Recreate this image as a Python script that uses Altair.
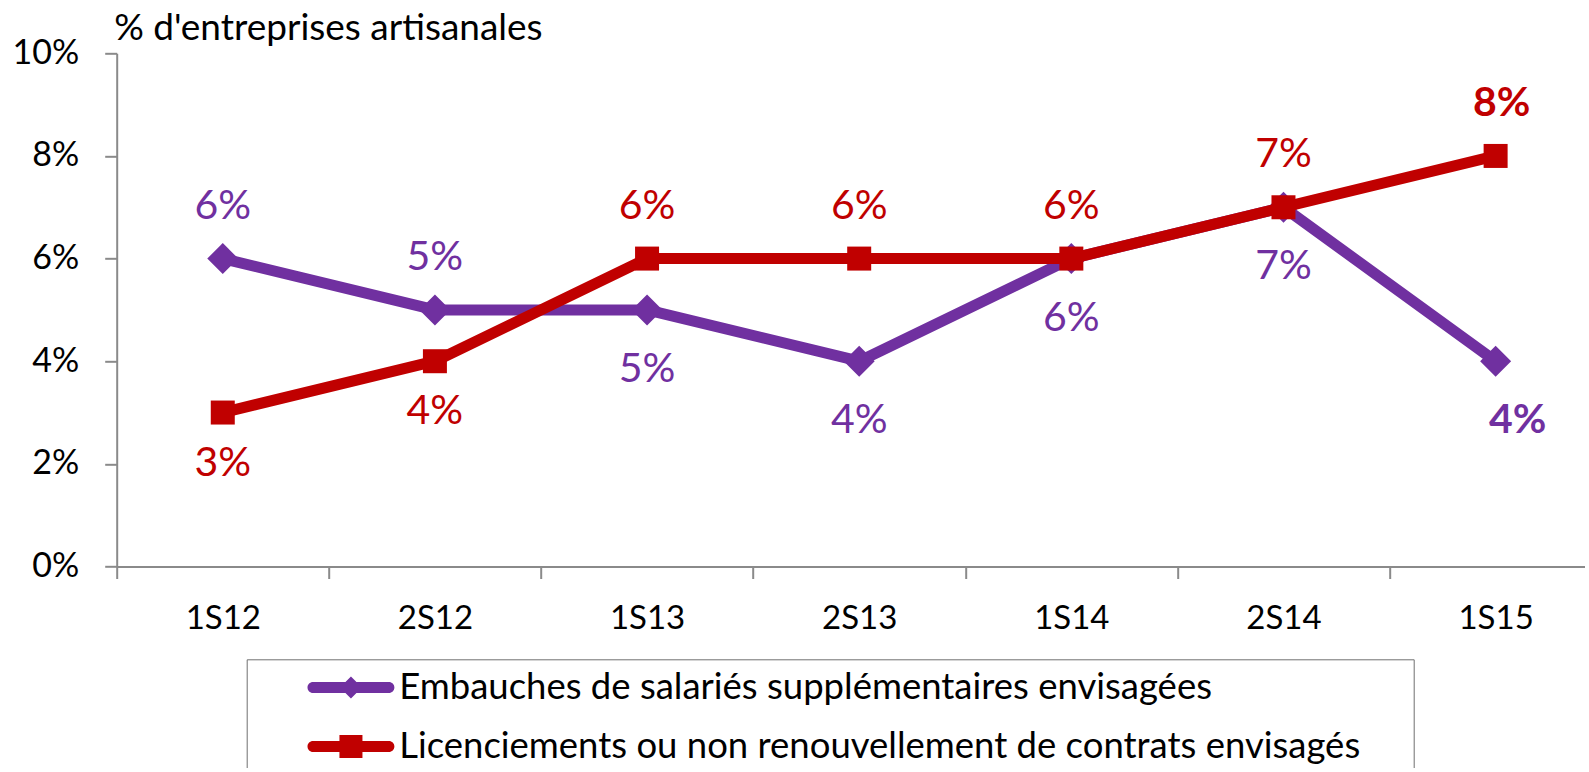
import altair as alt
import pandas as pd

categories = ["1S12", "2S12", "1S13", "2S13", "1S14", "2S14", "1S15"]
series_names = [
    "Embauches de salariés supplémentaires envisagées",
    "Licenciements ou non renouvellement de contrats envisagés",
]
embauches = [6, 5, 5, 4, 6, 7, 4]
licenciements = [3, 4, 6, 6, 6, 7, 8]
embauches_label_side = ["above", "above", "below", "below", "below", "below", "below"]
licenciements_label_side = ["below", "below", "above", "above", "above", "above", "above"]
highlighted = "1S15"
y_ticks = [0, 2, 4, 6, 8, 10]
y_title = "% d'entreprises artisanales"
colors = ["#7030A0", "#C00000"]

# styles per series
marker_shapes = ["diamond", "square"]
marker_sizes = [961, 576]
label_dy = [{"above": -52, "below": 60}, {"above": -52, "below": 51}]
bold_dx = [22, 6]

rows = []
for s, vals, sides in [
    (series_names[0], embauches, embauches_label_side),
    (series_names[1], licenciements, licenciements_label_side),
]:
    for i, (c, v, side) in enumerate(zip(categories, vals, sides)):
        rows.append({"cat": c, "idx": i, "series": s, "value": v, "side": side,
                     "bold": c == highlighted, "label": f"{v}%"})
df = pd.DataFrame(rows)

FONT = "Lato"
AXIS_GRAY = "#8a8a8a"

x_enc = alt.X(
    "cat:N",
    scale=alt.Scale(domain=categories, range=[0, 1485], paddingInner=0, paddingOuter=0),
    axis=alt.Axis(
        title=None, tickBand="extent", labelAngle=0,
        domainColor=AXIS_GRAY, domainWidth=2, tickColor=AXIS_GRAY, tickWidth=2, tickSize=12,
        labelFont=FONT, labelFontSize=33, labelColor="black",
        labelBaseline="alphabetic", labelPadding=50, grid=False,
    ),
)
y_enc = alt.Y(
    "value:Q",
    scale=alt.Scale(domain=[0, 10]),
    axis=alt.Axis(
        values=y_ticks, labelExpr="datum.value + '%'", grid=False,
        domainColor=AXIS_GRAY, domainWidth=2, tickColor=AXIS_GRAY, tickWidth=2, tickSize=12,
        labelFont=FONT, labelFontSize=34, labelColor="black", labelPadding=26,
        title=y_title, titleAngle=0, titleX=-3, titleY=-14, titleAlign="left",
        titleBaseline="alphabetic", titleFont=FONT, titleFontSize=37,
        titleFontWeight="normal", titleColor="black",
    ),
)

base = alt.Chart(df)
layers = []
for k, s in enumerate(series_names):
    sb = base.transform_filter(alt.datum.series == s)
    layers.append(sb.mark_line(strokeWidth=11, strokeJoin="round", color=colors[k]).encode(
        x=x_enc, y=y_enc, order=alt.Order("idx:Q")))
    layers.append(sb.mark_point(filled=True, shape=marker_shapes[k], size=marker_sizes[k],
                                opacity=1, strokeWidth=0, color=colors[k]).encode(x=x_enc, y=y_enc))

for k, s in enumerate(series_names):
    for side in ["above", "below"]:
        dy = label_dy[k][side]
        layers.append(
            base.transform_filter((alt.datum.series == s) & (alt.datum.side == side) & (alt.datum.bold == False))
            .mark_text(font=FONT, fontSize=41, baseline="middle", dy=dy, color=colors[k])
            .encode(x=x_enc, y=y_enc, text="label:N"))
        layers.append(
            base.transform_filter((alt.datum.series == s) & (alt.datum.side == side) & (alt.datum.bold == True))
            .mark_text(font=FONT, fontSize=41, fontWeight="bold", baseline="middle", dy=dy,
                       dx=bold_dx[k], color=colors[k])
            .encode(x=x_enc, y=y_enc, text="label:N"))

# legend symbols: a thick line with the series marker in its middle
line_part = "M-2.53,-0.367 L2.53,-0.367 A0.367,0.367 0 0 1 2.53,0.367 L-2.53,0.367 A0.367,0.367 0 0 1 -2.53,-0.367 Z"
legend_paths = [
    line_part + " M0,-0.733 L0.733,0 L0,0.733 L-0.733,0 Z",
    line_part + " M-0.767,-0.767 L0.767,-0.767 L0.767,0.767 L-0.767,0.767 Z",
]
legend_def = alt.Legend(title="\u00a0", titleOrient="right", titlePadding=43, titleFontSize=10,
                        orient="none", legendX=130, legendY=606,
                        direction="vertical", symbolSize=900, symbolStrokeWidth=0,
                        symbolOffset=76, labelOffset=30, labelFont=FONT,
                        labelFontSize=36.5, labelColor="black", labelLimit=1500,
                        padding=10, rowPadding=22, strokeColor="#6f6f6f",
                        fillColor="white")
legend_layer = base.transform_filter("false").mark_point(filled=True, opacity=1, size=900, strokeWidth=0).encode(
    x=x_enc, y=y_enc,
    color=alt.Color("series:N", scale=alt.Scale(domain=series_names, range=colors), legend=legend_def),
    shape=alt.Shape("series:N", scale=alt.Scale(domain=series_names, range=legend_paths), legend=legend_def),
)
layers.append(legend_layer)

chart = alt.layer(*layers).properties(
    width=1468, height=513.2,
    autosize=alt.AutoSizeParams(type="none"),
    padding={"left": 116.7, "top": 53.3, "right": 0, "bottom": 201.5},
    background="white",
).configure_view(strokeWidth=0)

chart.save("out.html", embed_options={"renderer": "svg", "actions": False})
